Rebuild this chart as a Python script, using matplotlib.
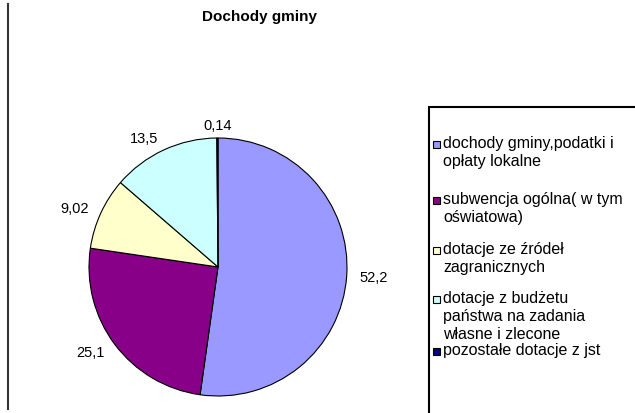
# Dochody gminy - wykres kołowy

import matplotlib.pyplot as plt
from matplotlib.patches import Rectangle
from matplotlib.lines import Line2D

plt.rcParams['font.family'] = ['Liberation Sans', 'DejaVu Sans']

# dane
categories = [
    "dochody gminy,podatki i\nopłaty lokalne",
    "subwencja ogólna( w tym\noświatowa)",
    "dotacje ze źródeł\nzagranicznych",
    "dotacje z budżetu\npaństwa na zadania\nwłasne i zlecone",
    "pozostałe dotacje z jst",
]
values = [52.2, 25.1, 9.02, 13.5, 0.14]
value_labels = ["52,2", "25,1", "9,02", "13,5", "0,14"]
colors = ["#9999FF", "#880088", "#FFFFCC", "#CCFFFF", "#000080"]

W, H = 635, 414
fig = plt.figure(figsize=(W / 100, H / 100), dpi=100)
fig.patch.set_facecolor("white")

# koło: środek (218, 268), promień 129 px
cx, cy, r = 218, 268, 129
ax = fig.add_axes([(cx - r) / W, (H - cy - r) / H, 2 * r / W, 2 * r / H])
wedges, texts = ax.pie(values, labels=value_labels, colors=colors,
                       startangle=90, counterclock=False, labeldistance=1.1,
                       wedgeprops=dict(edgecolor="black", linewidth=0.8),
                       textprops=dict(fontsize=10.5))
texts[-1].set_ha("center")
ax.set_xlim(-1, 1)
ax.set_ylim(-1, 1)
ax.set_aspect("equal")

# tytuł
fig.text(260 / W, 1 - 17 / H, "Dochody gminy", ha="center", va="center",
         fontsize=11, fontweight="bold")

# lewa krawędź
fig.add_artist(Line2D([8 / W, 8 / W], [1 - 5 / H, 1 - 410 / H],
                      color="#333333", lw=1.5, transform=fig.transFigure))

# legenda
fig.add_artist(Rectangle((429 / W, -0.05), 0.5, 1 - 108 / H + 0.05,
                         transform=fig.transFigure, facecolor="white",
                         edgecolor="black", lw=1.5))
legend_y = [145, 201, 251, 300, 352]
for lab, col, y in zip(categories, colors, legend_y):
    fig.add_artist(Rectangle((433 / W, 1 - (y + 3.5) / H), 7 / W, 7 / H,
                             transform=fig.transFigure, facecolor=col,
                             edgecolor="black", lw=0.8))
    fig.text(443 / W, 1 - (y - 9) / H, lab, ha="left", va="top",
             fontsize=11.5, linespacing=1.25)

plt.savefig("out.png", dpi=100)
